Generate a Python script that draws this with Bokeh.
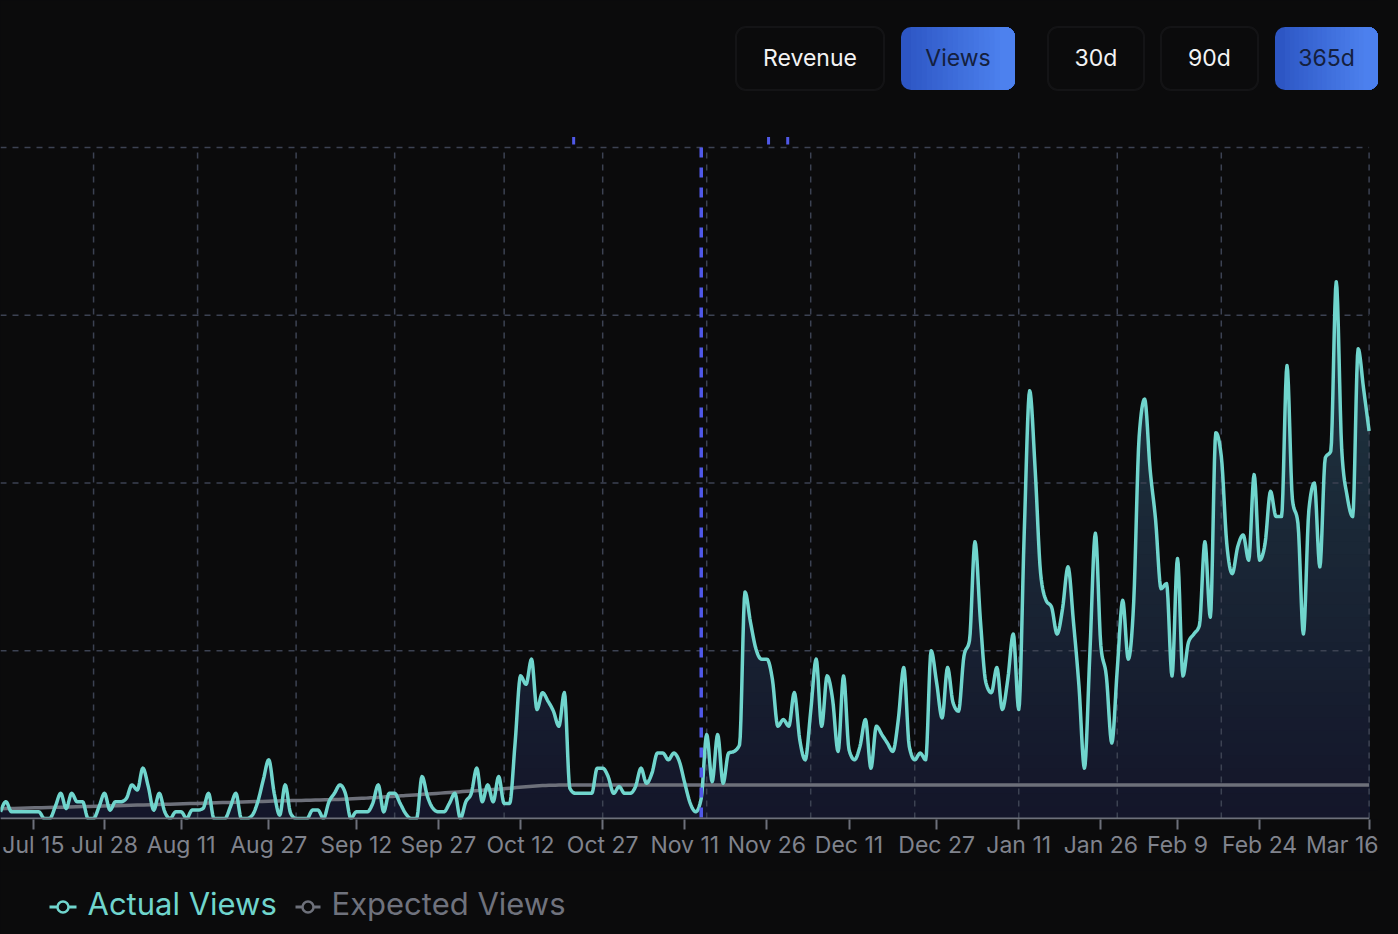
import datetime as dt
import numpy as np
from bokeh.plotting import figure
from bokeh.layouts import column
from bokeh.models import Range1d, FixedTicker, BoxAnnotation
from bokeh.core.properties import value
from bokeh.embed import file_html
from bokeh.resources import INLINE

# ---------------- data ----------------
start_date = dt.date(2024, 7, 9)

actual_views = [
    4, 10, 4, 4, 4, 4, 4, 4, 0, 0,
    7, 15, 6, 15, 10, 10, 0, 0, 7, 15,
    5, 10, 10, 12, 20, 17, 30, 19, 5, 15,
    4, 0, 4, 4, 0, 5, 5, 6, 15, 0,
    0, 0, 7, 15, 0, 0, 2, 10, 23, 35,
    15, 2, 20, 3, 0, 0, 0, 5, 5, 0,
    10, 15, 20, 15, 0, 4, 4, 4, 9, 20,
    4, 15, 15, 9, 3, 0, 0, 25, 13, 6,
    4, 4, 9, 15, 0, 10, 15, 30, 10, 20,
    10, 25, 9, 9, 45, 85, 80, 95, 65, 75,
    70, 64, 55, 75, 18, 15, 15, 15, 15, 30,
    30, 25, 15, 19, 15, 15, 19, 30, 21, 27,
    39, 39, 35, 39, 34, 21, 9, 4, 12, 50,
    22, 50, 21, 39, 40, 44, 135, 117, 101, 95,
    95, 83, 55, 59, 55, 75, 47, 35, 64, 95,
    55, 85, 71, 40, 85, 41, 35, 43, 59, 30,
    55, 50, 45, 40, 59, 90, 43, 35, 39, 35,
    100, 81, 60, 90, 69, 64, 97, 106, 165, 118,
    81, 75, 90, 65, 83, 110, 65, 170, 255, 208,
    146, 130, 126, 110, 125, 150, 117, 79, 30, 99,
    170, 103, 85, 45, 89, 130, 95, 129, 228, 250,
    208, 178, 137, 140, 85, 155, 85, 105, 110, 115,
    165, 120, 230, 216, 164, 146, 162, 169, 154, 205,
    154, 164, 195, 180, 180, 270, 190, 176, 110, 184,
    200, 150, 215, 219, 320, 220, 192, 180, 280, 256,
    231,
]

expected_days = [0, 25, 49, 66, 74, 90, 102, 250]
expected_views = [5.8, 8.0, 10.3, 12.0, 13.7, 17.3, 19.9, 19.9]

tick_labels = ["Jul 15", "Jul 28", "Aug 11", "Aug 27", "Sep 12", "Sep 27", "Oct 12",
               "Oct 27", "Nov 11", "Nov 26", "Dec 11", "Dec 27", "Jan 11", "Jan 26",
               "Feb 9", "Feb 24", "Mar 16"]
tick_dates = ["2024-07-15", "2024-07-28", "2024-08-11", "2024-08-27", "2024-09-12",
              "2024-09-27", "2024-10-12", "2024-10-27", "2024-11-11", "2024-11-26",
              "2024-12-11", "2024-12-27", "2025-01-11", "2025-01-26", "2025-02-09",
              "2025-02-24", "2025-03-16"]

grid_dates = ["2024-07-26", "2024-08-14", "2024-09-01", "2024-09-19", "2024-10-09",
              "2024-10-27", "2024-11-15", "2024-12-04", "2024-12-23", "2025-01-11",
              "2025-01-29", "2025-02-17", "2025-03-16"]
grid_values = [100, 200, 300, 400]
marker_date = "2024-11-14"
top_mark_days = [104.7, 140.3, 143.8]

button_labels = ["Revenue", "Views", "30d", "90d", "365d"]
button_selected = [False, True, False, False, True]

legend_labels = ["Actual Views", "Expected Views"]


def day_index(s):
    return (dt.date.fromisoformat(s) - start_date).days


n_days = len(actual_views)
last_day = n_days - 1
days = np.arange(n_days)
tick_pos = [day_index(s) for s in tick_dates]
grid_days = [day_index(s) for s in grid_dates]
marker_day = day_index(marker_date)

# ---------------- styling / layout constants ----------------
BG = "#0b0b0c"
TEAL = "#70d5cd"
GRAY = "#6d707a"
GRID = "#3c4252"
BLUE = "#5059e8"
FONT = "Inter"

PAGE_W, PAGE_H = 1398, 934
W = 1378                # canvas width (page background fills the rest)
MAIN_H = 870            # chart canvas height (frame + axis)
FRAME_H = 819           # frame spans pixel rows 0..819
PLOT_RIGHT = 1368.6     # pixel x of the last day
PX_PER_UNIT = 1.6775    # vertical pixels per view
Y0_OFFSET = 1.0         # keep the baseline one pixel above the frame edge


def monotone(xs, ys, per=8):
    """d3 curveMonotoneX rendering of the points (drawing only)."""
    x = np.asarray(xs, float)
    y = np.asarray(ys, float)
    n = len(x)
    h = np.diff(x)
    s = np.diff(y) / h
    t = np.zeros(n)
    for i in range(1, n - 1):
        h0, h1 = h[i - 1], h[i]
        s0, s1 = s[i - 1], s[i]
        p_ = (s0 * h1 + s1 * h0) / (h0 + h1)
        t[i] = (np.sign(s0) + np.sign(s1)) * min(abs(s0), abs(s1), 0.5 * abs(p_))
    if n > 2:
        t[0] = (3 * s[0] - t[1]) / 2
        t[-1] = (3 * s[-1] - t[-2]) / 2
    else:
        t[:] = s[0]
    ox, oy = [x[0]], [y[0]]
    u = np.linspace(0, 1, per + 1)[1:]
    for i in range(n - 1):
        hh = h[i]
        p0, p3 = y[i], y[i + 1]
        p1 = p0 + hh * t[i] / 3
        p2 = p3 - hh * t[i + 1] / 3
        by = (1 - u) ** 3 * p0 + 3 * (1 - u) ** 2 * u * p1 + 3 * (1 - u) * u ** 2 * p2 + u ** 3 * p3
        ox.extend(x[i] + hh * u)
        oy.extend(by)
    return np.array(ox), np.array(oy)


x_end = last_day * W / PLOT_RIGHT
y_start = -Y0_OFFSET / PX_PER_UNIT
y_end = y_start + FRAME_H / PX_PER_UNIT

p = figure(width=W, height=MAIN_H, x_range=Range1d(0, x_end), y_range=Range1d(y_start, y_end),
           output_backend="svg", toolbar_location=None, y_axis_location=None,
           min_border_left=0, min_border_right=0, min_border_top=0,
           min_border_bottom=MAIN_H - FRAME_H, background_fill_color=BG,
           border_fill_color=BG, outline_line_color=None,
           styles={"background-color": BG})
p.grid.visible = False
# pixel-space ranges for the buttons
p.extra_x_ranges = {"px": Range1d(0, W)}
p.extra_y_ranges = {"py": Range1d(FRAME_H, 0)}

# ---------------- buttons ----------------
b_left = [735.5, 900.5, 1047.5, 1160.5, 1274.5]
b_right = [883.5, 1014.5, 1143.5, 1257.5, 1377.5]
b_top, b_bot, rad = 26.5, 89.5, 10
c_left = np.array([45, 86, 196])
c_right = np.array([82, 136, 245])
for lab, l, r, sel in zip(button_labels, b_left, b_right, button_selected):
    if sel:
        p.add_layout(BoxAnnotation(left=l, right=r, top=b_top, bottom=b_bot,
                                   x_range_name="px", y_range_name="py", level="underlay",
                                   fill_color="#%02x%02x%02x" % tuple(c_left), fill_alpha=1,
                                   line_color=None, border_radius=rad))
        nstep = 18
        w = r - l
        for k in range(1, nstep + 1):
            xk = l + rad + (k - 1) * (w - 2 * rad) / nstep
            tt = (xk - l) / w
            c = (c_left + (c_right - c_left) * tt).astype(int)
            p.add_layout(BoxAnnotation(left=xk, right=r, top=b_top, bottom=b_bot,
                                       x_range_name="px", y_range_name="py", level="underlay",
                                       fill_color="#%02x%02x%02x" % tuple(c), fill_alpha=1,
                                       line_color=None, border_radius=(0, rad, rad, 0)))
    else:
        p.add_layout(BoxAnnotation(left=l, right=r, top=b_top, bottom=b_bot,
                                   x_range_name="px", y_range_name="py", level="underlay",
                                   fill_color=BG, fill_alpha=1, line_color="#2b2b2e",
                                   line_width=2, border_radius=rad))
    p.text(x=[(l + r) / 2], y=[57.5], text=[lab], x_range_name="px", y_range_name="py",
           text_align="center", text_baseline="middle", text_font=value(FONT),
           text_font_size="23px", text_color="#14203e" if sel else "#f3f3f4")

# ---------------- chart ----------------
cx, cy = monotone(days, actual_views, per=8)
cy = np.maximum(cy, 0)

# vertical gradient fill under the curve
vmax = 330.0
nb = 44
band = vmax / nb
c0 = np.array([20, 22, 42])
c1 = np.array([33, 57, 67])
for k in range(nb - 1, -1, -1):
    if k * band > cy.max():
        continue
    hi = (k + 1) * band
    col = (c0 + (c1 - c0) * ((k + 0.5) / nb)).astype(int)
    p.varea(x=cx, y1=0, y2=np.minimum(cy, hi), fill_color="#%02x%02x%02x" % tuple(col))

# dashed grid
p.segment(x0=grid_days, x1=grid_days, y0=[0] * len(grid_days), y1=[400] * len(grid_days),
          line_color=GRID, line_width=1.5, line_dash="6 6")
p.segment(x0=[0] * len(grid_values), x1=[last_day] * len(grid_values),
          y0=grid_values, y1=grid_values, line_color=GRID, line_width=1.5, line_dash="6 6")

ex, ey = monotone(expected_days, expected_views, per=20)
p.line(ex, ey, line_color=GRAY, line_width=3.5, line_join="round")
p.line(cx, cy, line_color=TEAL, line_width=3.5, line_join="round")

p.segment(x0=[marker_day], x1=[marker_day], y0=[400], y1=[0], line_color=BLUE,
          line_width=3.5, line_dash="10 10")
p.segment(x0=top_mark_days, x1=top_mark_days, y0=[401.8] * 3, y1=[406.3] * 3,
          line_color=BLUE, line_width=3)

# baseline (axis line) only across the data span
p.segment(x0=[0], x1=[last_day], y0=[0], y1=[0], line_color=GRAY, line_width=2)

ax = p.xaxis[0]
ax.ticker = FixedTicker(ticks=tick_pos)
ax.major_label_overrides = {t: lab for t, lab in zip(tick_pos, tick_labels)}
ax.axis_line_color = None
ax.major_tick_line_color = GRAY
ax.major_tick_line_width = 2
ax.major_tick_in = 0
ax.major_tick_out = 10
ax.minor_tick_line_color = None
ax.major_label_text_color = "#80838d"
ax.major_label_text_font = FONT
ax.major_label_text_font_size = "23px"
ax.major_label_standoff = 1

# ---------------- legend strip ----------------
leg = figure(width=W, height=PAGE_H - MAIN_H, x_range=Range1d(0, W),
             y_range=Range1d(PAGE_H, MAIN_H), output_backend="svg", toolbar_location=None,
             x_axis_location=None, y_axis_location=None, min_border=0,
             background_fill_color=BG, border_fill_color=BG, outline_line_color=None,
             styles={"background-color": BG})
leg.grid.visible = False
leg_y = 906.5
icons = [(49, 76, 62.5, 87), (295, 320, 307.5, 331)]
leg_line_colors = [TEAL, GRAY]
leg_text_colors = [TEAL, "#6f727d"]
for (a, b, c, tx), lab, lc, tc in zip(icons, legend_labels, leg_line_colors, leg_text_colors):
    leg.segment(x0=[a], x1=[b], y0=[leg_y], y1=[leg_y], line_color=lc, line_width=3)
    leg.scatter(x=[c], y=[leg_y], size=11, marker="circle", fill_color=BG,
                line_color=lc, line_width=2.5)
    leg.text(x=[tx], y=[903], text=[lab], text_align="left", text_baseline="middle",
             text_font=value(FONT), text_font_size="31px", text_color=tc)

page = column(p, leg, spacing=0, width=PAGE_W, height=PAGE_H,
              styles={"background-color": BG})
open("out.html", "w").write(file_html(page, INLINE))
